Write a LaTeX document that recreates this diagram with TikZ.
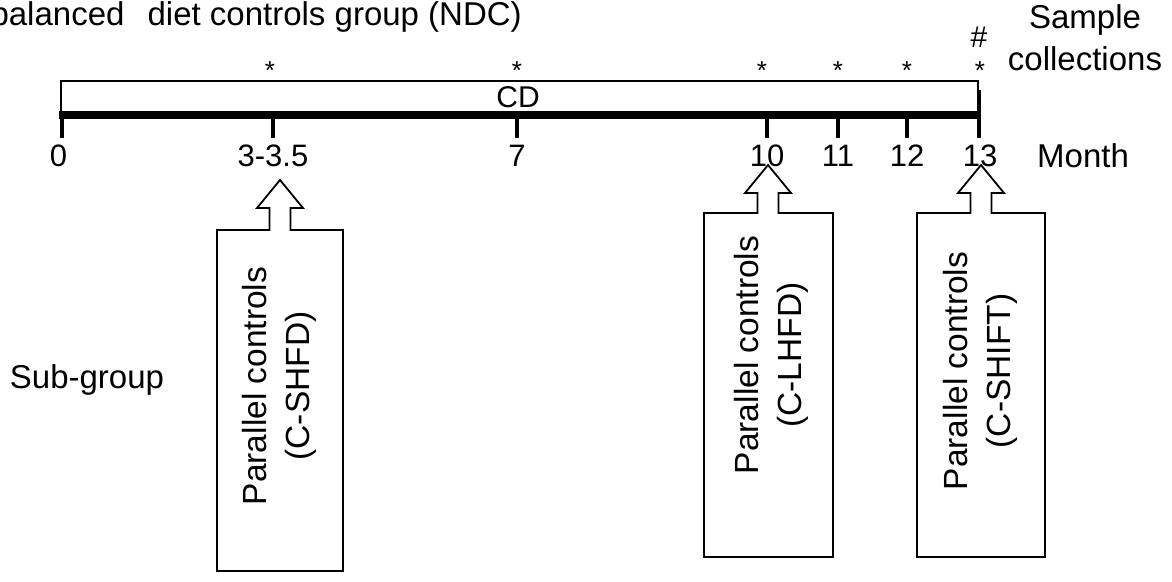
\documentclass[tikz,border=0pt]{standalone}
\usepackage{fontspec}
\setmainfont{Liberation Sans}
\begin{document}
\begin{tikzpicture}[x=1pt,y=-1pt,
  lbl/.style={inner sep=0pt,font=\fontsize{33}{42}\selectfont},
  ticklbl/.style={inner sep=0pt,font=\fontsize{31}{36}\selectfont},
  boxtext/.style={inner sep=0pt,rotate=90,align=center,font=\fontsize{33.5}{43}\selectfont},
  star/.style={inner sep=0pt,anchor=base,font=\fontsize{26}{30}\selectfont},
  outline/.style={draw=black,line width=1.8pt,fill=white,line join=miter},
  tick/.style={line width=3.5pt}]
\clip (0,0) rectangle (1172,581);
\fill[white] (0,0) rectangle (1172,581);

% group title, running off the left edge
\node[lbl,anchor=base east] (title) at (522,25) {balanced\hspace{14pt} diet controls group (NDC)};

% diet bar
\node[outline,minimum width=917pt,minimum height=31pt,inner sep=0pt,anchor=north west] (bar) at (60,80) {};
\node[ticklbl,font=\fontsize{30}{36}\selectfont,anchor=base,text height=21.5pt,text depth=0pt] (cd) at (518,107) {CD};
\fill (59.1,111) rectangle (977.5,119);

% month ticks
\foreach \name/\x/\txt/\lx in {m0/62/0/58.5,m3/273/3-3.5/273,m7/517/7/517,m10/767/10/767,m11/838/11/838,m12/907/12/907,m13/979/13/980}{
  \coordinate (\name) at (\x,119);
  \draw[tick] (\name) -- ++(0,19);
  \node[ticklbl,anchor=base] (l\name) at (\lx,166) {\txt};
}
\draw[tick] (979,90) -- (m13);
\node[lbl,anchor=base west] (month) at (1037,167) {Month};

% sample collection marks (asterisk lowered so its box hugs the glyph)
\foreach \name/\x in {s3/270,s7/517,s10/762,s11/838,s12/907,s13/980}{
  \node[star] (\name) at (\x,68) {\raisebox{-11pt}[7.6pt][0pt]{*}};
}
\node[ticklbl,font=\fontsize{30}{30}\selectfont] (hash) at (979,37) {\#};
\node[lbl,align=center,anchor=base] (samples) at (1085,70) {Sample\\collections};

\node[lbl,anchor=base] (subgroup) at (87,388) {Sub-group};

% control sub-group boxes with arrows up to the timeline
\newcommand\ctrlbox[6]{%
  \draw[outline] (#1,#4) -- (#1,#3) -- ({#5-10.5},#3) -- ({#5-10.5},{#6+28})
    -- ({#5-23},{#6+28}) -- (#5,#6) -- ({#5+23},{#6+28}) -- ({#5+10.5},{#6+28})
    -- ({#5+10.5},#3) -- (#2,#3) -- (#2,#4) -- cycle;}
\ctrlbox{217}{343}{230}{571}{280}{180}
\ctrlbox{704}{833}{213}{557}{768}{165}
\ctrlbox{917}{1045}{213}{557}{981}{165}
\node[boxtext] (shfd) at (279,386) {Parallel controls\\(C-SHFD)};
\node[boxtext] (lhfd) at (771,355) {Parallel controls\\(C-LHFD)};
\node[boxtext] (shift) at (980,371) {Parallel controls\\(C-SHIFT)};
\end{tikzpicture}
\end{document}
